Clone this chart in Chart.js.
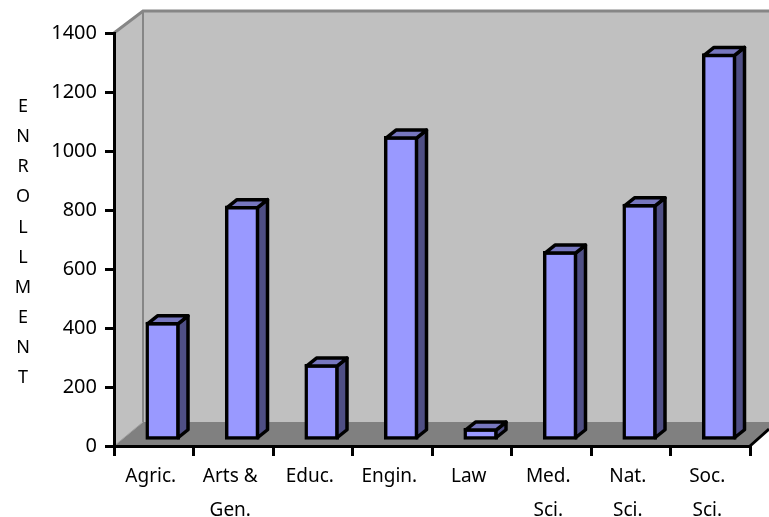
<!DOCTYPE html>
<html>
<head>
<meta charset="utf-8">
<style>
    html, body { margin: 0; padding: 0; background: #fff; overflow: hidden; }
    canvas { display: block; }
</style>
<script src="https://cdn.jsdelivr.net/npm/chart.js@4"></script>
</head>
<body>
<canvas id="enrollmentChart" width="769" height="517"></canvas>
<script>
const categories = ['Agric.', ['Arts &', 'Gen.'], 'Educ.', 'Engin.', 'Law', ['Med.', 'Sci.'], ['Nat.', 'Sci.'], ['Soc.', 'Sci.']];
const enrollment = [403, 797, 260, 1033, 43, 643, 803, 1313];
const yTicks = [0, 200, 400, 600, 800, 1000, 1200, 1400];
const axisLetters = ['E', 'N', 'R', 'O', 'L', 'L', 'M', 'E', 'N', 'T'];

const FONT = '"Noto Sans", sans-serif';
const wallDepth = { x: 29, top: -22, floor: -24 };   // how far the back wall sits from the axes
const barShift = { x: 9, y: -5 };      // bars stand a little way into the floor
const barDepth = { x: 10, y: -8 };
const floorSlope = 0.89;
const edgeWidth = 3.5;

// Back wall, side wall and floor, painted under everything else
const walls = {
    id: 'walls',
    beforeDraw(chart) {
        const { ctx, chartArea: a, width } = chart;
        const bx = a.left + wallDepth.x;
        const tY = a.top + wallDepth.top;
        const fY = a.bottom + wallDepth.floor;
        ctx.save();
        ctx.fillStyle = '#c0c0c0';
        ctx.beginPath();
        ctx.moveTo(a.left, a.top);
        ctx.lineTo(bx, tY);
        ctx.lineTo(width, tY);
        ctx.lineTo(width, fY);
        ctx.lineTo(bx, fY);
        ctx.lineTo(a.left, a.bottom);
        ctx.closePath();
        ctx.fill();

        ctx.fillStyle = '#808080';
        ctx.beginPath();
        ctx.moveTo(a.left, a.bottom);
        ctx.lineTo(bx, fY);
        ctx.lineTo(width, fY);
        ctx.lineTo(width, a.bottom - (width - a.right) * floorSlope);
        ctx.lineTo(a.right, a.bottom);
        ctx.closePath();
        ctx.fill();

        ctx.strokeStyle = '#868686';
        ctx.lineWidth = 3;
        ctx.beginPath();
        ctx.moveTo(a.left, a.top);
        ctx.lineTo(bx, tY);
        ctx.lineTo(width, tY);
        ctx.stroke();
        ctx.lineWidth = 2;
        ctx.beginPath();
        ctx.moveTo(bx, tY);
        ctx.lineTo(bx, fY);
        ctx.stroke();
        ctx.strokeStyle = '#a0a0a0';
        ctx.lineWidth = 1;
        ctx.beginPath();
        ctx.moveTo(bx, fY);
        ctx.lineTo(a.left, a.bottom);
        ctx.stroke();
        ctx.restore();
    },
    afterDraw(chart) {
        // floor edge running off to the right
        const { ctx, chartArea: a, width } = chart;
        ctx.save();
        ctx.strokeStyle = '#000';
        ctx.lineWidth = 3;
        ctx.beginPath();
        ctx.moveTo(a.right, a.bottom);
        ctx.lineTo(width, a.bottom - (width - a.right) * floorSlope);
        ctx.stroke();
        ctx.restore();
    }
};

// Shifts the bars back and adds top and side faces from the bar elements
const bars3d = {
    id: 'bars3d',
    beforeDatasetsDraw(chart) {
        chart.ctx.save();
        chart.ctx.translate(barShift.x, barShift.y);
    },
    afterDatasetsDraw(chart) {
        const ctx = chart.ctx;
        const inset = edgeWidth / 2;
        ctx.lineWidth = edgeWidth;
        ctx.lineJoin = 'round';
        ctx.strokeStyle = '#000';
        chart.getDatasetMeta(0).data.forEach(bar => {
            const l = bar.x - bar.width / 2 + inset;
            const r = bar.x + bar.width / 2 - inset;
            const t = bar.y + inset;
            const b = bar.base - inset;
            const dx = barDepth.x;
            const dy = barDepth.y;

            ctx.fillStyle = '#4f4f85';
            ctx.beginPath();
            ctx.moveTo(r, t);
            ctx.lineTo(r + dx, t + dy);
            ctx.lineTo(r + dx, b + dy);
            ctx.lineTo(r, b);
            ctx.closePath();
            ctx.fill();
            ctx.stroke();

            ctx.fillStyle = '#7777bf';
            ctx.beginPath();
            ctx.moveTo(l, t);
            ctx.lineTo(l + dx, t + dy);
            ctx.lineTo(r + dx, t + dy);
            ctx.lineTo(r, t);
            ctx.closePath();
            ctx.fill();
            ctx.stroke();
        });
        ctx.restore();
    }
};

// Vertical axis caption, one letter per row
const stackedTitle = {
    id: 'stackedTitle',
    afterDraw(chart) {
        const ctx = chart.ctx;
        ctx.save();
        ctx.fillStyle = '#000';
        ctx.font = '18px ' + FONT;
        ctx.textAlign = 'center';
        ctx.textBaseline = 'middle';
        axisLetters.forEach((letter, i) => ctx.fillText(letter, 23, 107 + i * 30.1));
        ctx.restore();
    }
};

new Chart(document.getElementById('enrollmentChart'), {
    type: 'bar',
    data: {
        labels: categories,
        datasets: [{
            data: enrollment,
            backgroundColor: '#9999ff',
            borderColor: '#000',
            borderWidth: edgeWidth,
            borderSkipped: false,
            barThickness: 34,
            clip: false
        }]
    },
    options: {
        responsive: false,
        animation: false,
        layout: { padding: { top: 33, right: 19 } },
        plugins: { legend: { display: false }, tooltip: { enabled: false } },
        scales: {
            x: {
                afterFit: scale => { scale.height = 71; },
                border: { color: '#000', width: 3 },
                grid: { drawOnChartArea: false, color: '#000', lineWidth: 3, tickLength: 10 },
                ticks: { color: '#000', padding: 4, labelOffset: -3, maxRotation: 0, autoSkip: false, font: { family: FONT, size: 19, lineHeight: 1.79 } }
            },
            y: {
                min: 0,
                max: 1400,
                afterFit: scale => { scale.width = 114; },
                afterBuildTicks: scale => { scale.ticks = yTicks.map(value => ({ value })); },
                border: { color: '#000', width: 3 },
                grid: { drawOnChartArea: false, color: '#000', lineWidth: 3, tickLength: 9 },
                ticks: { color: '#000', padding: 8, callback: value => String(value), font: { family: FONT, size: 20 } }
            }
        }
    },
    plugins: [walls, bars3d, stackedTitle]
});
</script>
</body>
</html>
